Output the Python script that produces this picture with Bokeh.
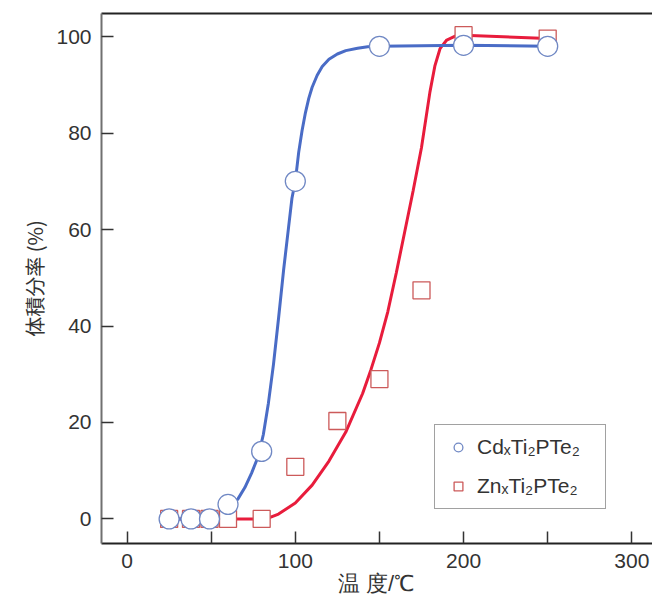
from bokeh.plotting import figure
from bokeh.models import LinearAxis, FixedTicker, Range1d, Legend, LegendItem
from bokeh.embed import file_html
from bokeh.resources import INLINE

# measured points
cd_x = [25, 38, 49, 60, 80, 100, 150, 200, 250]
cd_y = [0, 0, 0, 3, 14, 70, 98, 98.2, 98]
zn_x = [25, 38, 49, 60, 80, 100, 125, 150, 175, 200, 250]
zn_y = [0, 0, 0, 0, 0, 10.8, 20.3, 29, 47.4, 100.3, 99.6]

# fitted curves
cd_fit_x = [25, 50, 54, 58, 62, 66, 70, 74, 78, 81, 84, 87, 90, 93, 96, 98, 100,
            102, 104, 106, 108, 110, 113, 116, 120, 125, 130, 137, 143, 150, 200, 250]
cd_fit_y = [0, 0, 0.5, 1.3, 2.6, 4.2, 6.5, 9.5, 13, 17.5, 24, 32, 41.5, 51.5, 60.5, 66.5, 70,
            76, 80.5, 84.2, 87.2, 89.5, 92, 93.8, 95.3, 96.4, 97.1, 97.6, 97.9, 98, 98.2, 98]
zn_fit_x = [25, 80, 85, 90, 100, 110, 120, 130, 140, 145, 150, 155, 160, 165, 170,
            175, 180, 183, 186, 190, 195, 200, 250]
zn_fit_y = [0, 0, 0.3, 1, 3.3, 7, 12, 18, 26, 31, 36.5, 43, 51, 59.5, 68,
            77, 88.5, 94, 97.5, 99.3, 100.1, 100.3, 99.6]

x_ticks = [0, 50, 100, 150, 200, 250, 300]
x_blank = [50, 150, 250]
y_ticks = [0, 20, 40, 60, 80, 100]

cd_label = "CdₓTi₂PTe₂"
zn_label = "ZnₓTi₂PTe₂"
x_title = "温 度/℃"
y_title = "体積分率 (%)"

p = figure(width=652, height=598, x_range=Range1d(-15.2, 312.3), y_range=Range1d(-5.1, 104.8),
           output_backend="svg", toolbar_location=None,
           min_border_left=101, min_border_right=0, min_border_top=13, min_border_bottom=0)
p.xgrid.visible = False
p.ygrid.visible = False
p.outline_line_color = None
p.background_fill_color = "white"

p.line(zn_fit_x, zn_fit_y, line_color="#e81c3c", line_width=3)
p.line(cd_fit_x, cd_fit_y, line_color="#4a6cc6", line_width=3)
sq = p.scatter(zn_x, zn_y, marker="square", size=17, fill_color="white",
               line_color="#cc5a5a", line_width=1.3)
ci = p.scatter(cd_x, cd_y, marker="circle", size=20, fill_color="white",
               line_color="#7088c4", line_width=1.3)

tick_font = "Liberation Sans"
cjk = "Noto Sans CJK JP"
txt = "#333333"

xa = p.xaxis[0]
xa.ticker = FixedTicker(ticks=x_ticks)
xa.major_label_overrides = {t: "" for t in x_blank}
xa.major_tick_in = 12
xa.major_tick_out = 0
xa.minor_tick_line_color = None
xa.axis_line_color = "#222222"
xa.axis_line_width = 2
xa.major_tick_line_color = "#333333"
xa.major_tick_line_width = 1.5
xa.major_label_text_font = tick_font
xa.major_label_text_font_size = "21px"
xa.major_label_text_color = txt
xa.major_label_standoff = 10
xa.axis_label = x_title
xa.axis_label_text_font = "Liberation Sans"
xa.axis_label_text_font_size = "22px"
xa.axis_label_text_font_style = "normal"
xa.axis_label_text_color = txt
xa.axis_label_standoff = 0

ya = p.yaxis[0]
ya.ticker = FixedTicker(ticks=y_ticks)
ya.major_tick_in = 12
ya.major_tick_out = 0
ya.minor_tick_line_color = None
ya.axis_line_color = "#707070"
ya.axis_line_width = 2
ya.major_tick_line_color = "#333333"
ya.major_tick_line_width = 1.5
ya.major_label_text_font = tick_font
ya.major_label_text_font_size = "21px"
ya.major_label_text_color = txt
ya.major_label_standoff = 10
ya.axis_label = y_title
ya.axis_label_text_font = cjk
ya.axis_label_text_font_size = "20px"
ya.axis_label_text_font_style = "normal"
ya.axis_label_text_color = txt
ya.axis_label_standoff = 4

top = LinearAxis(major_tick_in=0, major_tick_out=0, minor_tick_in=0, minor_tick_out=0,
                 major_label_text_font_size="0px", axis_line_color="#222222",
                 axis_line_width=2, major_label_standoff=0)
top.ticker = FixedTicker(ticks=[])
p.add_layout(top, "above")

legend = Legend(items=[LegendItem(label=cd_label, renderers=[ci]),
                       LegendItem(label=zn_label, renderers=[sq])],
                location=(333, 34), orientation="vertical",
                label_text_font="Liberation Sans", label_text_font_size="21px",
                label_text_color=txt, border_line_color="#444444",
                border_line_width=1.2, padding=10, spacing=15, label_standoff=6,
                label_height=22, label_width=118, glyph_width=26, glyph_height=22,
                margin=0, background_fill_alpha=1)
p.add_layout(legend, "center")

open("out.html", "w").write(file_html(p, INLINE))
